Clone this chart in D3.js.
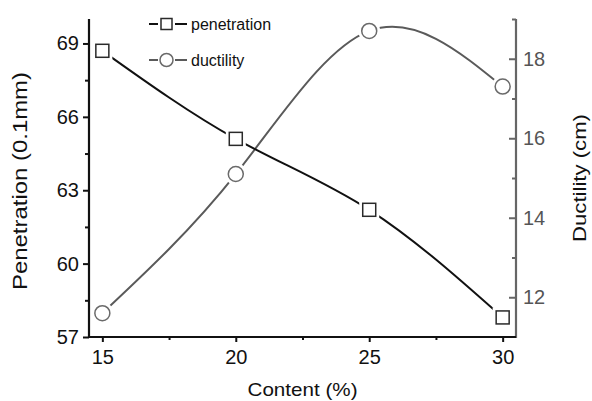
<!DOCTYPE html>
<html>
<head>
<meta charset="utf-8">
<script src="https://cdn.jsdelivr.net/npm/d3@7"></script>
<style>
  html, body { margin: 0; padding: 0; background: #fff; }
  svg { display: block; font-family: "Liberation Sans", Arial, Helvetica, sans-serif; }
</style>
</head>
<body>
<svg id="chart" width="592" height="401"></svg>
<script>
// ---- data ----
const content = [15, 20, 25, 30];
const penetration = [68.7, 65.1, 62.2, 57.8];
const ductility = [11.6, 15.1, 18.7, 17.3];
const xTicks = [15, 20, 25, 30];
const xMinor = [17.5, 22.5, 27.5];
const leftTicks = [57, 60, 63, 66, 69];
const leftMinor = [58.5, 61.5, 64.5, 67.5];
const rightTicks = [12, 14, 16, 18];
const rightMinor = [13, 15, 17, 19];
const seriesNames = ["penetration", "ductility"];

// ---- layout ----
const L = 89, R = 516, T = 19, B = 337;
const svg = d3.select("#chart");

const x = d3.scaleLinear().domain([14.5, 30.5]).range([L, R]);
const yL = d3.scaleLinear().domain([57, 70]).range([B, T]);
const yR = d3.scaleLinear().domain([11, 19]).range([B, T]);

const black = "#111", gray = "#5a5a5a";

// ---- data lines ----
const penPts = content.map((c, i) => [c, penetration[i]]);
const ducPts = content.map((c, i) => [c, ductility[i]]);

const lineL = d3.line().x(d => x(d[0])).y(d => yL(d[1])).curve(d3.curveNatural);
const lineR = d3.line().x(d => x(d[0])).y(d => yR(d[1])).curve(d3.curveNatural);

svg.append("path").attr("d", lineR(ducPts)).attr("fill", "none")
  .attr("stroke", gray).attr("stroke-width", 2);
svg.append("path").attr("d", lineL(penPts)).attr("fill", "none")
  .attr("stroke", black).attr("stroke-width", 2);

// white gaps around markers
svg.selectAll(".pmask").data(penPts).enter().append("rect")
  .attr("x", d => x(d[0]) - 10).attr("y", d => yL(d[1]) - 10)
  .attr("width", 20).attr("height", 20).attr("fill", "#fff");
svg.selectAll(".dmask").data(ducPts).enter().append("circle")
  .attr("cx", d => x(d[0])).attr("cy", d => yR(d[1])).attr("r", 11).attr("fill", "#fff");

// markers
svg.selectAll(".pm").data(penPts).enter().append("rect")
  .attr("x", d => x(d[0]) - 6.5).attr("y", d => yL(d[1]) - 6.5)
  .attr("width", 13).attr("height", 13)
  .attr("fill", "#fff").attr("stroke", "#2a2a2a").attr("stroke-width", 1.5);
svg.selectAll(".dm").data(ducPts).enter().append("circle")
  .attr("cx", d => x(d[0])).attr("cy", d => yR(d[1])).attr("r", 7.5)
  .attr("fill", "#fff").attr("stroke", "#6a6a6a").attr("stroke-width", 1.5);

// ---- axes ----
function styleAxis(g, color, fs) {
  g.select(".domain").remove();
  g.selectAll("line").attr("stroke", color).attr("stroke-width", 2);
  g.selectAll("text").attr("fill", color).attr("font-size", fs)
    .attr("font-family", "'Liberation Sans', Arial, sans-serif");
}

// bottom
const gx = svg.append("g").attr("transform", `translate(0,${B})`)
  .call(d3.axisBottom(x).tickValues(xTicks).tickSize(5).tickPadding(8).tickFormat(d3.format("d")));
styleAxis(gx, black, 20);
gx.selectAll("text").attr("fill", "#111");
svg.append("g").attr("transform", `translate(0,${B})`)
  .call(d3.axisBottom(x).tickValues(xMinor).tickSize(3).tickFormat(""))
  .call(g => styleAxis(g, black, 20));

// left
const gl = svg.append("g").attr("transform", `translate(${L},0)`)
  .call(d3.axisLeft(yL).tickValues(leftTicks).tickSize(6).tickPadding(4).tickFormat(d3.format("d")));
styleAxis(gl, black, 20);
svg.append("g").attr("transform", `translate(${L},0)`)
  .call(d3.axisLeft(yL).tickValues(leftMinor).tickSize(4).tickFormat(""))
  .call(g => styleAxis(g, black, 20));

// right (ticks inward)
const rightColor = "#666";
const gr = svg.append("g").attr("transform", `translate(${R},0)`)
  .call(d3.axisRight(yR).tickValues(rightTicks).tickSize(-7).tickPadding(14).tickFormat(d3.format("d")));
styleAxis(gr, rightColor, 20);
gr.selectAll("text").attr("fill", "#555").attr("x", 7);
svg.append("g").attr("transform", `translate(${R},0)`)
  .call(d3.axisRight(yR).tickValues(rightMinor).tickSize(-4).tickFormat(""))
  .call(g => styleAxis(g, rightColor, 20));

// axis lines
svg.append("line").attr("x1", L).attr("x2", L).attr("y1", T).attr("y2", B + 1)
  .attr("stroke", black).attr("stroke-width", 2.2);
svg.append("line").attr("x1", R).attr("x2", R).attr("y1", T).attr("y2", B + 1)
  .attr("stroke", rightColor).attr("stroke-width", 2.2);
svg.append("line").attr("x1", L - 1).attr("x2", R).attr("y1", B).attr("y2", B)
  .attr("stroke", black).attr("stroke-width", 2.2);

// ---- titles ----
svg.append("text").text("Content (%)")
  .attr("x", (L + R) / 2).attr("y", 396).attr("text-anchor", "middle")
  .attr("font-size", 19).attr("fill", "#111")
  .attr("textLength", 110).attr("lengthAdjust", "spacingAndGlyphs");
svg.append("text").text("Penetration (0.1mm)")
  .attr("transform", "translate(27,181) rotate(-90)").attr("text-anchor", "middle")
  .attr("font-size", 20).attr("fill", "#111")
  .attr("textLength", 218).attr("lengthAdjust", "spacingAndGlyphs");
svg.append("text").text("Ductility (cm)")
  .attr("transform", "translate(586,178) rotate(-90)").attr("text-anchor", "middle")
  .attr("font-size", 19).attr("fill", "#111")
  .attr("textLength", 128).attr("lengthAdjust", "spacingAndGlyphs");

// ---- legend ----
const legend = [
  { name: seriesNames[0], color: black, stroke: "#2a2a2a", shape: "square", y: 24 },
  { name: seriesNames[1], color: gray, stroke: "#6a6a6a", shape: "circle", y: 60 }
];
legend.forEach(l => {
  const g = svg.append("g");
  g.append("line").attr("x1", 149).attr("x2", 158).attr("y1", l.y).attr("y2", l.y)
    .attr("stroke", l.color).attr("stroke-width", 2);
  g.append("line").attr("x1", 175).attr("x2", 187).attr("y1", l.y).attr("y2", l.y)
    .attr("stroke", l.color).attr("stroke-width", 2);
  if (l.shape === "square") {
    g.append("rect").attr("x", 161).attr("y", l.y - 5.5).attr("width", 11).attr("height", 11)
      .attr("fill", "#fff").attr("stroke", l.stroke).attr("stroke-width", 1.5);
  } else {
    g.append("circle").attr("cx", 166.5).attr("cy", l.y).attr("r", 6.5)
      .attr("fill", "#fff").attr("stroke", l.stroke).attr("stroke-width", 1.5);
  }
  g.append("text").text(l.name).attr("x", 191).attr("y", l.y + 5.5)
    .attr("font-size", 16).attr("fill", "#111");
});
</script>
</body>
</html>
